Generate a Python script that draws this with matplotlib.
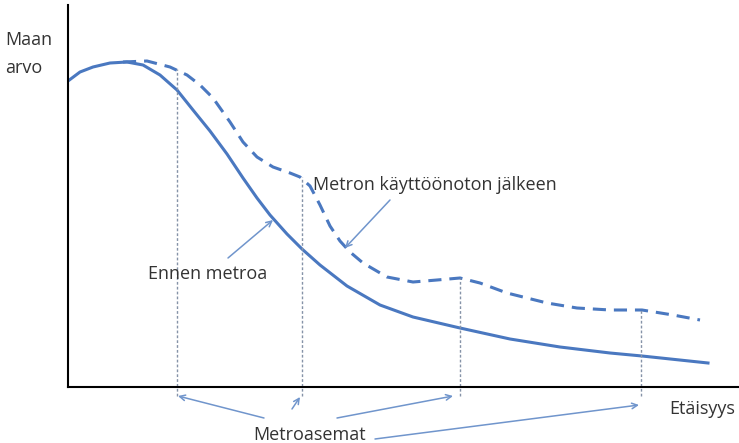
import numpy as np
import matplotlib.pyplot as plt

# Schematic: land value vs distance, before and after the metro
# x = distance, y = land value (arbitrary units)
before_x = [0, 12, 25, 42, 59, 75, 92, 109, 125, 142, 159, 175, 189, 202, 219, 234,
            252, 279, 312, 345, 392, 442, 492, 542, 574, 640]
before_y = [306, 315, 320, 324, 325, 322, 312, 297, 277, 256, 233, 209, 189, 172, 153, 138,
            122, 101, 82, 70, 59, 48, 40, 34, 31, 24]

after_x = [55, 79, 102, 119, 132, 145, 162, 175, 189, 205, 222, 232, 242, 252, 262, 272,
           282, 295, 319, 345, 369, 392, 412, 439, 479, 509, 542, 574, 605, 632]
after_y = [325, 326, 320, 312, 302, 289, 265, 245, 230, 220, 214, 210, 201, 182, 161, 146,
           135, 124, 110, 105, 107, 109, 104, 94, 84, 79, 77, 77, 72, 67]

stations_x = [109, 234, 392, 573]
stations_top = [318, 210, 109, 77]

blue = '#4a78c0'
arrow_blue = '#7095cc'
dot_col = '#8593a8'

fig = plt.figure(figsize=(7.39, 4.43), dpi=100)
ax = fig.add_axes([68/739, 56/443, 671/739, 382/443])
ax.set_xlim(0, 671)
ax.set_ylim(0, 382)

ax.plot(before_x, before_y, color=blue, lw=2.2, solid_joinstyle='round')
ax.plot(after_x, after_y, color=blue, lw=2.2, dashes=(4.3, 2.6), dash_joinstyle='round')

for sx, st in zip(stations_x, stations_top):
    ax.plot([sx, sx], [-9, st], color=dot_col, lw=1, dashes=(2, 1.5), clip_on=False)

ax.spines['top'].set_visible(False)
ax.spines['right'].set_visible(False)
ax.spines['left'].set_linewidth(1.5)
ax.spines['bottom'].set_linewidth(1.5)
ax.set_xticks([])
ax.set_yticks([])

font = dict(family=['Open Sans', 'DejaVu Sans'], fontsize=13, color='#333333')
arrow = dict(arrowstyle='->', color=arrow_blue, lw=1.1, shrinkA=0, shrinkB=0)

ax.annotate('', xy=(277, 139), xytext=(322, 187), arrowprops=arrow)
ax.text(245, 202, 'Metron käyttöönoton jälkeen', va='center', ha='left', **font)

ax.annotate('', xy=(205, 167), xytext=(160, 129), arrowprops=arrow)
ax.text(80, 113, 'Ennen metroa', va='center', ha='left', **font)

ax.text(185, -48, 'Metroasemat', va='center', ha='left', clip_on=False, **font)
for tail, head in [((196, -31), (110, -9)), ((224, -22), (232, -10)),
                   ((269, -31), (385, -9)), ((307, -52), (571, -18))]:
    ax.annotate('', xy=head, xytext=tail, arrowprops=arrow, annotation_clip=False)

ax.text(667, -22, 'Etäisyys', va='center', ha='right', clip_on=False, **font)
fig.text(5/739, 1 - 40/443, 'Maan', va='center', ha='left', **font)
fig.text(5/739, 1 - 68/443, 'arvo', va='center', ha='left', **font)

fig.savefig('out.png', dpi=100)
